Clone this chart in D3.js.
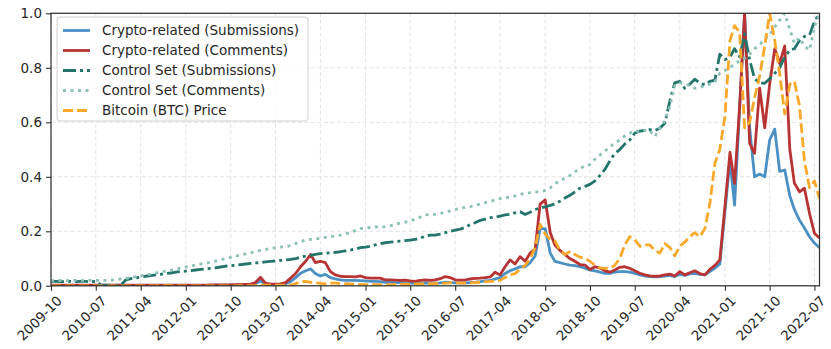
<!DOCTYPE html>
<html>
<head>
<meta charset="utf-8">
<script src="https://cdn.jsdelivr.net/npm/d3@7"></script>
<style>
  body { margin: 0; background: #fff; }
  text { font-family: "DejaVu Sans", sans-serif; fill: #262626; }
</style>
</head>
<body>
<div id="viz-wrapper"></div>
<script>
// monthly data, 2009-10 .. 2022-08 (155 months), each series scaled to its max
let startMonth = new Date(2009, 9, 1),
    endMonth = new Date(2022, 7, 1);

let tickLabels = ["2009-10", "2010-07", "2011-04", "2012-01", "2012-10", "2013-07",
  "2014-04", "2015-01", "2015-10", "2016-07", "2017-04", "2018-01", "2018-10",
  "2019-07", "2020-04", "2021-01", "2021-10", "2022-07"];

let yTicks = [0, 0.2, 0.4, 0.6, 0.8, 1.0];

let seriesNames = ["Crypto-related (Submissions)", "Crypto-related (Comments)",
  "Control Set (Submissions)", "Control Set (Comments)", "Bitcoin (BTC) Price"];

let cryptoSub = [
  0.001,0.001,0.001,0.001,0.001,0.001,0.001,0.001,0.001,0.001,
  0.001,0.001,0.001,0.001,0.001,0.001,0.001,0.001,0.001,0.001,
  0.001,0.001,0.001,0.001,0.001,0.001,0.001,0.001,0.001,0.001,
  0.001,0.001,0.001,0.002,0.002,0.002,0.002,0.002,0.003,0.003,
  0.003,0.008,0.018,0.005,0.003,0.003,0.004,0.008,0.015,0.030,
  0.046,0.055,0.062,0.045,0.036,0.042,0.030,0.025,0.022,0.020,
  0.020,0.020,0.019,0.018,0.016,0.016,0.015,0.013,0.013,0.012,
  0.012,0.011,0.010,0.010,0.010,0.011,0.010,0.010,0.011,0.013,
  0.012,0.011,0.011,0.011,0.012,0.013,0.015,0.018,0.020,0.025,
  0.030,0.045,0.055,0.062,0.070,0.070,0.085,0.110,0.210,0.210,
  0.120,0.090,0.085,0.080,0.076,0.074,0.070,0.065,0.058,0.055,
  0.050,0.046,0.046,0.050,0.052,0.052,0.050,0.046,0.040,0.036,
  0.034,0.033,0.034,0.036,0.038,0.034,0.042,0.038,0.044,0.046,
  0.042,0.040,0.052,0.065,0.080,0.270,0.460,0.296,0.650,1.000,
  0.580,0.400,0.410,0.400,0.535,0.575,0.420,0.425,0.330,0.280,
  0.241,0.212,0.180,0.157,0.140];

let cryptoCom = [
  0.002,0.002,0.002,0.002,0.002,0.002,0.002,0.002,0.002,0.002,
  0.002,0.002,0.002,0.002,0.002,0.002,0.002,0.002,0.002,0.002,
  0.002,0.002,0.002,0.002,0.002,0.002,0.002,0.002,0.002,0.002,
  0.002,0.002,0.003,0.003,0.003,0.003,0.003,0.004,0.004,0.005,
  0.006,0.012,0.031,0.010,0.006,0.006,0.007,0.012,0.028,0.045,
  0.070,0.090,0.115,0.085,0.090,0.085,0.052,0.040,0.035,0.034,
  0.034,0.033,0.036,0.030,0.028,0.028,0.028,0.022,0.022,0.021,
  0.020,0.021,0.018,0.016,0.020,0.022,0.020,0.022,0.026,0.034,
  0.030,0.022,0.021,0.022,0.025,0.027,0.028,0.030,0.033,0.050,
  0.040,0.070,0.095,0.080,0.107,0.090,0.120,0.135,0.300,0.315,
  0.195,0.150,0.130,0.115,0.100,0.090,0.078,0.076,0.060,0.070,
  0.065,0.055,0.050,0.058,0.068,0.070,0.064,0.055,0.046,0.040,
  0.036,0.035,0.036,0.040,0.043,0.036,0.052,0.040,0.048,0.055,
  0.045,0.040,0.060,0.075,0.095,0.290,0.490,0.376,0.660,1.000,
  0.523,0.486,0.725,0.580,0.740,0.870,0.816,0.880,0.500,0.376,
  0.345,0.358,0.266,0.193,0.175];

let controlSub = [
  0.016,0.016,0.015,0.016,0.016,0.015,0.016,0.016,0.015,0.016,
  0.003,0.002,0.002,0.002,0.002,0.022,0.026,0.029,0.032,0.035,
  0.037,0.040,0.042,0.045,0.047,0.050,0.052,0.054,0.056,0.058,
  0.060,0.062,0.064,0.066,0.069,0.072,0.074,0.076,0.078,0.080,
  0.082,0.084,0.085,0.088,0.090,0.091,0.093,0.095,0.097,0.100,
  0.105,0.109,0.112,0.115,0.118,0.120,0.121,0.123,0.125,0.128,
  0.131,0.135,0.140,0.142,0.145,0.150,0.155,0.158,0.160,0.162,
  0.164,0.166,0.168,0.170,0.175,0.182,0.186,0.186,0.190,0.195,
  0.200,0.204,0.208,0.215,0.225,0.232,0.240,0.245,0.250,0.252,
  0.256,0.260,0.262,0.268,0.272,0.262,0.270,0.280,0.285,0.290,
  0.295,0.300,0.310,0.322,0.332,0.345,0.358,0.365,0.372,0.385,
  0.405,0.428,0.460,0.485,0.500,0.520,0.535,0.560,0.568,0.570,
  0.573,0.570,0.578,0.597,0.680,0.745,0.750,0.725,0.740,0.758,
  0.745,0.737,0.750,0.755,0.850,0.830,0.840,0.870,0.840,0.925,
  0.830,0.760,0.745,0.743,0.760,0.780,0.800,0.840,0.865,0.870,
  0.900,0.915,0.920,0.970,1.000];

let controlCom = [
  0.019,0.019,0.020,0.019,0.020,0.020,0.019,0.020,0.020,0.020,
  0.020,0.020,0.021,0.022,0.025,0.027,0.030,0.033,0.036,0.040,
  0.043,0.047,0.050,0.054,0.057,0.061,0.065,0.069,0.072,0.076,
  0.080,0.083,0.087,0.091,0.095,0.100,0.104,0.109,0.113,0.117,
  0.121,0.126,0.130,0.133,0.137,0.140,0.142,0.143,0.148,0.155,
  0.162,0.168,0.170,0.172,0.175,0.178,0.180,0.183,0.186,0.190,
  0.196,0.203,0.210,0.212,0.214,0.216,0.216,0.217,0.220,0.225,
  0.230,0.234,0.238,0.245,0.252,0.260,0.262,0.262,0.265,0.270,
  0.275,0.280,0.285,0.288,0.290,0.296,0.300,0.305,0.310,0.315,
  0.320,0.322,0.326,0.330,0.335,0.340,0.342,0.345,0.345,0.350,
  0.360,0.375,0.385,0.395,0.405,0.418,0.430,0.440,0.445,0.465,
  0.480,0.495,0.510,0.523,0.535,0.550,0.560,0.570,0.565,0.570,
  0.570,0.548,0.580,0.605,0.660,0.735,0.745,0.740,0.735,0.725,
  0.728,0.735,0.740,0.750,0.780,0.790,0.800,0.815,0.825,0.835,
  0.850,0.870,0.885,0.905,0.920,0.950,0.975,1.000,0.940,0.890,
  0.910,0.880,0.865,0.950,1.000];

let btcPrice = [
  0.000,0.000,0.000,0.000,0.000,0.000,0.000,0.000,0.000,0.000,
  0.000,0.000,0.000,0.000,0.000,0.000,0.000,0.000,0.000,0.000,
  0.000,0.000,0.001,0.001,0.001,0.000,0.000,0.000,0.000,0.000,
  0.000,0.000,0.000,0.000,0.000,0.000,0.000,0.000,0.001,0.001,
  0.001,0.001,0.002,0.002,0.002,0.002,0.002,0.002,0.002,0.008,
  0.015,0.016,0.013,0.011,0.009,0.008,0.010,0.010,0.009,0.008,
  0.007,0.006,0.005,0.004,0.004,0.004,0.004,0.004,0.004,0.005,
  0.005,0.006,0.006,0.007,0.007,0.007,0.008,0.008,0.009,0.010,
  0.011,0.011,0.010,0.010,0.011,0.012,0.013,0.015,0.016,0.018,
  0.020,0.030,0.040,0.045,0.060,0.075,0.100,0.140,0.225,0.190,
  0.170,0.165,0.130,0.115,0.125,0.115,0.105,0.100,0.090,0.075,
  0.066,0.064,0.065,0.075,0.100,0.150,0.180,0.170,0.145,0.150,
  0.150,0.130,0.120,0.155,0.140,0.110,0.145,0.160,0.180,0.195,
  0.180,0.210,0.300,0.450,0.500,0.620,0.900,0.955,0.930,0.580,
  0.600,0.690,0.770,0.880,1.000,0.900,0.780,0.630,0.740,0.750,
  0.660,0.460,0.360,0.385,0.320];

let seriesValues = [cryptoSub, cryptoCom, controlSub, controlCom, btcPrice];

// styles for each series, same order as seriesNames
let seriesColors = ["#4a90c4", "#b83333", "#23756b", "#8cc0b9", "#f9a82a"];
let seriesDash = [null, null, "13,4,3,4", "3,4.5", "10,4"];
let lineW = 2.8;

let width = 831,
    height = 349;
let margin = {top: 13.3, right: 11.5, bottom: 63.2, left: 51};
let innerW = width - margin.left - margin.right,
    innerH = height - margin.top - margin.bottom;

let months = d3.timeMonth.range(startMonth, d3.timeMonth.offset(endMonth, 1));
let parseMonth = d3.timeParse("%Y-%m");

let xScale = d3.scaleTime().domain([startMonth, endMonth]).range([0, innerW]);
let yScale = d3.scaleLinear().domain([0, 1]).range([innerH, 0]);

let svg = d3.select("#viz-wrapper")
  .append("svg")
  .attr("width", width)
  .attr("height", height);

let viz = svg.append("g")
  .attr("transform", "translate(" + margin.left + "," + margin.top + ")");

svg.append("defs").append("clipPath")
  .attr("id", "plot-clip")
  .append("rect")
  .attr("width", innerW)
  .attr("height", innerH);

// grid
let tickDates = tickLabels.map(parseMonth);
viz.append("g").selectAll("line.vgrid")
  .data(tickDates)
  .enter().append("line")
  .attr("x1", d => xScale(d)).attr("x2", d => xScale(d))
  .attr("y1", 0).attr("y2", innerH)
  .style("stroke", "#e3e3e3").style("stroke-width", 1)
  .style("stroke-dasharray", "4,2.5");

viz.append("g").selectAll("line.hgrid")
  .data(yTicks)
  .enter().append("line")
  .attr("x1", 0).attr("x2", innerW)
  .attr("y1", d => yScale(d)).attr("y2", d => yScale(d))
  .style("stroke", "#e3e3e3").style("stroke-width", 1)
  .style("stroke-dasharray", "4,2.5");

// lines
let line = d3.line()
  .x((d, i) => xScale(months[i]))
  .y(d => yScale(d));

let lines = viz.append("g").attr("clip-path", "url(#plot-clip)");
seriesValues.forEach(function(vals, k) {
  lines.append("path")
    .datum(vals)
    .attr("d", line)
    .style("fill", "none")
    .style("stroke", seriesColors[k])
    .style("stroke-width", lineW)
    .style("stroke-linejoin", "round")
    .style("stroke-dasharray", seriesDash[k]);
});

// axes
let xAxis = d3.axisBottom(xScale)
  .tickValues(tickDates)
  .tickFormat((d, i) => tickLabels[i])
  .tickSize(5)
  .tickPadding(3.5);

let gx = viz.append("g")
  .attr("transform", "translate(0," + innerH + ")")
  .call(xAxis);
gx.select(".domain").remove();
gx.selectAll(".tick line").style("stroke", "#333").style("stroke-width", 1.1);
gx.selectAll(".tick text")
  .style("font-size", "13.5px")
  .style("font-family", "DejaVu Sans, sans-serif")
  .attr("text-anchor", "end")
  .attr("y", 0).attr("dy", "0.72em")
  .attr("transform", "translate(4.5,9) rotate(-45)");

let yAxis = d3.axisLeft(yScale)
  .tickValues(yTicks)
  .tickFormat(d3.format(".1f"))
  .tickSize(5)
  .tickPadding(4);

let gy = viz.append("g").call(yAxis);
gy.select(".domain").remove();
gy.selectAll(".tick line").style("stroke", "#333").style("stroke-width", 1.1);
gy.selectAll(".tick text")
  .style("font-size", "13.5px")
  .style("font-family", "DejaVu Sans, sans-serif");

// frame
viz.append("rect")
  .attr("width", innerW).attr("height", innerH)
  .style("fill", "none")
  .style("stroke", "#333")
  .style("stroke-width", 1.25);

// legend
let legend = svg.append("g").attr("transform", "translate(57,17)");
legend.append("rect")
  .attr("width", 251).attr("height", 104)
  .attr("rx", 3)
  .style("fill", "#fff").style("fill-opacity", 0.85)
  .style("stroke", "#d0d0d0").style("stroke-width", 1);

let items = legend.selectAll("g.item")
  .data(seriesNames)
  .enter().append("g")
  .attr("transform", (d, i) => "translate(0," + (13.5 + i * 20) + ")");

items.append("line")
  .attr("x1", 6).attr("x2", 33)
  .style("stroke", (d, i) => seriesColors[i])
  .style("stroke-width", lineW)
  .style("stroke-dasharray", (d, i) => seriesDash[i]);

items.append("text")
  .attr("x", 45).attr("dy", "0.35em")
  .style("font-size", "13.5px")
  .text(d => d);
</script>
</body>
</html>
